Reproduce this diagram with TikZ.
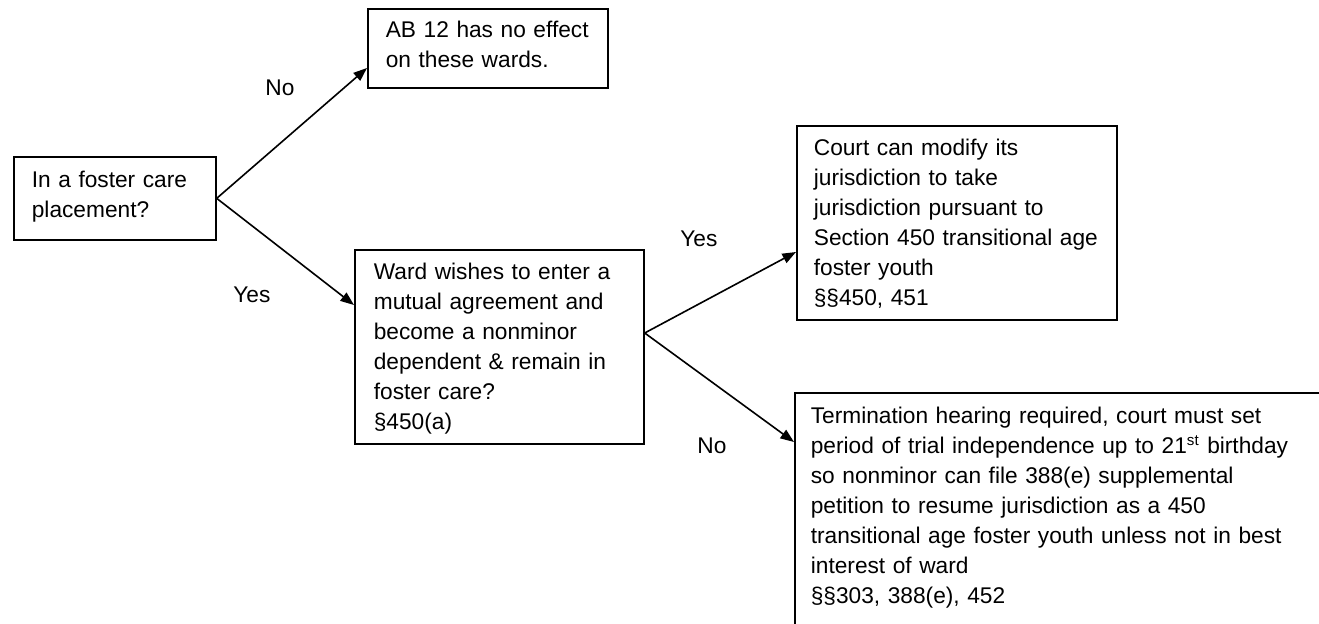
\documentclass[tikz,border=0pt]{standalone}
\usepackage{fontspec}
\setmainfont{Liberation Sans}
\usetikzlibrary{arrows.meta}
\newlength\pxu
\setlength\pxu{0.5286pt}

\begin{document}
\begin{tikzpicture}[x=0.5286pt, y=-0.5286pt,
        every node/.style={font=\fontsize{12}{15.86}\selectfont},
        box/.style={draw, line width=0.9pt, align=left, anchor=north west, inner ysep=0pt},
        lbl/.style={anchor=base west, inner sep=0pt},
        arr/.style={-{Triangle[length=7.2pt, width=5.4pt]}, line width=0.85pt}
    ]
    \useasboundingbox (0,0) rectangle (1319,624);

    % Question
    \node[box, text width=166\pxu, inner xsep=18\pxu, text height=31\pxu, text depth=52\pxu] (place) at (13,156) {In a foster care\\placement?};

    % First answers
    \node[box, text width=212\pxu, inner xsep=14\pxu, text height=29\pxu, text depth=50\pxu] (noeff) at (367,8) {\hspace*{4\pxu}AB 12 has no effect\\\hspace*{4\pxu}on these wards.};
    \node[box, text width=251\pxu, inner xsep=19\pxu, text height=30\pxu, text depth=164\pxu] (ward) at (354,249) {Ward wishes to enter a\\mutual agreement and\\become a nonminor\\dependent \& remain in\\foster care?\\§450(a)};

    % Second answers
    \node[box, text width=286\pxu, inner xsep=17\pxu, text height=30\pxu, text depth=164\pxu] (modify) at (796,125) {Court can modify its\\jurisdiction to take\\jurisdiction pursuant to\\Section 450 transitional age\\foster youth\\§§450, 451};
    \node[box, text width=520\pxu, inner xsep=16\pxu, text height=31\pxu, text depth=240\pxu] (term) at (794,392) {Termination hearing required, court must set\\period of trial independence up to 21\textsuperscript{st} birthday\\so nonminor can file 388(e) supplemental\\petition to resume jurisdiction as a 450\\transitional age foster youth unless not in best\\interest of ward\\§§303, 388(e), 452};

    % Labels
    \node[lbl] (no1) at (265,95) {No};
    \node[lbl] (yes1) at (233,302) {Yes};
    \node[lbl] (yes2) at (680,246) {Yes};
    \node[lbl] (no2) at (697,453) {No};

    % Arrows
    \draw[arr] (place.east) -- ([yshift=-60\pxu]noeff.north west);
    \draw[arr] (place.east) -- ([yshift=-56\pxu]ward.north west);
    \draw[arr] ([yshift=-84\pxu]ward.north east) -- ([yshift=-127\pxu]modify.north west);
    \draw[arr] ([yshift=-84\pxu]ward.north east) -- ([yshift=-50\pxu]term.north west);
\end{tikzpicture}
\end{document}
